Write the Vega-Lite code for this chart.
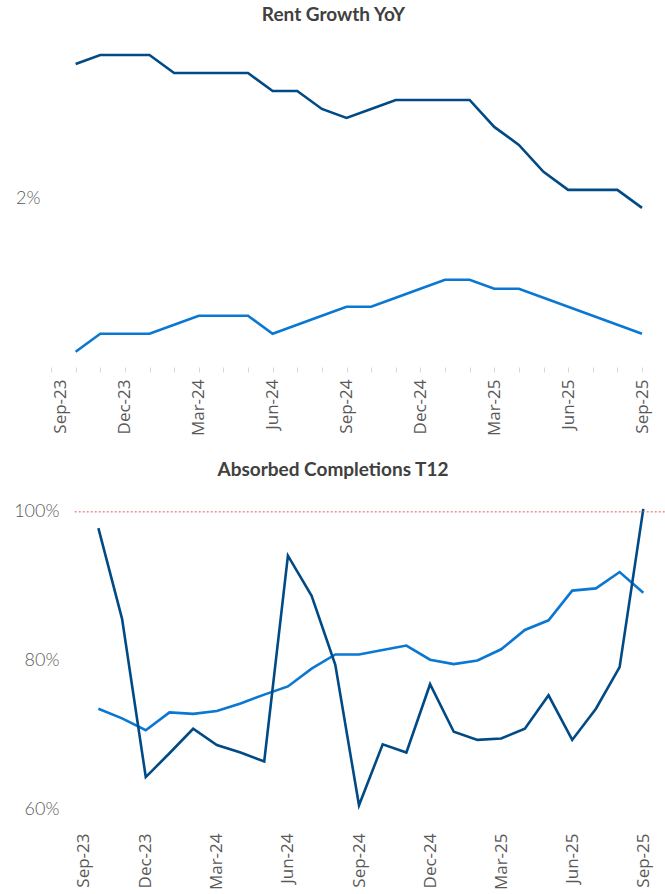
{
  "$schema": "https://vega.github.io/schema/vega-lite/v6.json",
  "padding": {"top": 6, "left": 13, "right": 0, "bottom": 0},
  "spacing": 25,
  "config": {"view": {"stroke": null}},
  "datasets": {
    "rent": [
      {"month": "Oct-23", "series": "Market", "value": 0.003},
      {"month": "Nov-23", "series": "Market", "value": 0.005},
      {"month": "Dec-23", "series": "Market", "value": 0.005},
      {"month": "Jan-24", "series": "Market", "value": 0.005},
      {"month": "Feb-24", "series": "Market", "value": 0.006},
      {"month": "Mar-24", "series": "Market", "value": 0.007},
      {"month": "Apr-24", "series": "Market", "value": 0.007},
      {"month": "May-24", "series": "Market", "value": 0.007},
      {"month": "Jun-24", "series": "Market", "value": 0.005},
      {"month": "Jul-24", "series": "Market", "value": 0.006},
      {"month": "Aug-24", "series": "Market", "value": 0.007},
      {"month": "Sep-24", "series": "Market", "value": 0.008},
      {"month": "Oct-24", "series": "Market", "value": 0.008},
      {"month": "Nov-24", "series": "Market", "value": 0.009},
      {"month": "Dec-24", "series": "Market", "value": 0.010},
      {"month": "Jan-25", "series": "Market", "value": 0.011},
      {"month": "Feb-25", "series": "Market", "value": 0.011},
      {"month": "Mar-25", "series": "Market", "value": 0.010},
      {"month": "Apr-25", "series": "Market", "value": 0.010},
      {"month": "May-25", "series": "Market", "value": 0.009},
      {"month": "Jun-25", "series": "Market", "value": 0.008},
      {"month": "Jul-25", "series": "Market", "value": 0.007},
      {"month": "Aug-25", "series": "Market", "value": 0.006},
      {"month": "Sep-25", "series": "Market", "value": 0.005},
      {"month": "Oct-23", "series": "Subject", "value": 0.035},
      {"month": "Nov-23", "series": "Subject", "value": 0.036},
      {"month": "Dec-23", "series": "Subject", "value": 0.036},
      {"month": "Jan-24", "series": "Subject", "value": 0.036},
      {"month": "Feb-24", "series": "Subject", "value": 0.034},
      {"month": "Mar-24", "series": "Subject", "value": 0.034},
      {"month": "Apr-24", "series": "Subject", "value": 0.034},
      {"month": "May-24", "series": "Subject", "value": 0.034},
      {"month": "Jun-24", "series": "Subject", "value": 0.032},
      {"month": "Jul-24", "series": "Subject", "value": 0.032},
      {"month": "Aug-24", "series": "Subject", "value": 0.030},
      {"month": "Sep-24", "series": "Subject", "value": 0.029},
      {"month": "Oct-24", "series": "Subject", "value": 0.030},
      {"month": "Nov-24", "series": "Subject", "value": 0.031},
      {"month": "Dec-24", "series": "Subject", "value": 0.031},
      {"month": "Jan-25", "series": "Subject", "value": 0.031},
      {"month": "Feb-25", "series": "Subject", "value": 0.031},
      {"month": "Mar-25", "series": "Subject", "value": 0.028},
      {"month": "Apr-25", "series": "Subject", "value": 0.026},
      {"month": "May-25", "series": "Subject", "value": 0.023},
      {"month": "Jun-25", "series": "Subject", "value": 0.021},
      {"month": "Jul-25", "series": "Subject", "value": 0.021},
      {"month": "Aug-25", "series": "Subject", "value": 0.021},
      {"month": "Sep-25", "series": "Subject", "value": 0.019}
    ],
    "absorbed": [
      {"month": "Oct-23", "series": "Market", "value": 0.735},
      {"month": "Nov-23", "series": "Market", "value": 0.722},
      {"month": "Dec-23", "series": "Market", "value": 0.706},
      {"month": "Jan-24", "series": "Market", "value": 0.730},
      {"month": "Feb-24", "series": "Market", "value": 0.728},
      {"month": "Mar-24", "series": "Market", "value": 0.732},
      {"month": "Apr-24", "series": "Market", "value": 0.742},
      {"month": "May-24", "series": "Market", "value": 0.754},
      {"month": "Jun-24", "series": "Market", "value": 0.765},
      {"month": "Jul-24", "series": "Market", "value": 0.789},
      {"month": "Aug-24", "series": "Market", "value": 0.808},
      {"month": "Sep-24", "series": "Market", "value": 0.808},
      {"month": "Oct-24", "series": "Market", "value": 0.814},
      {"month": "Nov-24", "series": "Market", "value": 0.820},
      {"month": "Dec-24", "series": "Market", "value": 0.801},
      {"month": "Jan-25", "series": "Market", "value": 0.795},
      {"month": "Feb-25", "series": "Market", "value": 0.800},
      {"month": "Mar-25", "series": "Market", "value": 0.815},
      {"month": "Apr-25", "series": "Market", "value": 0.841},
      {"month": "May-25", "series": "Market", "value": 0.854},
      {"month": "Jun-25", "series": "Market", "value": 0.894},
      {"month": "Jul-25", "series": "Market", "value": 0.897},
      {"month": "Aug-25", "series": "Market", "value": 0.919},
      {"month": "Sep-25", "series": "Market", "value": 0.891},
      {"month": "Oct-23", "series": "Subject", "value": 0.978},
      {"month": "Nov-23", "series": "Subject", "value": 0.856},
      {"month": "Dec-23", "series": "Subject", "value": 0.643},
      {"month": "Jan-24", "series": "Subject", "value": 0.675},
      {"month": "Feb-24", "series": "Subject", "value": 0.708},
      {"month": "Mar-24", "series": "Subject", "value": 0.686},
      {"month": "Apr-24", "series": "Subject", "value": 0.676},
      {"month": "May-24", "series": "Subject", "value": 0.664},
      {"month": "Jun-24", "series": "Subject", "value": 0.941},
      {"month": "Jul-24", "series": "Subject", "value": 0.887},
      {"month": "Aug-24", "series": "Subject", "value": 0.794},
      {"month": "Sep-24", "series": "Subject", "value": 0.605},
      {"month": "Oct-24", "series": "Subject", "value": 0.687},
      {"month": "Nov-24", "series": "Subject", "value": 0.676},
      {"month": "Dec-24", "series": "Subject", "value": 0.768},
      {"month": "Jan-25", "series": "Subject", "value": 0.704},
      {"month": "Feb-25", "series": "Subject", "value": 0.693},
      {"month": "Mar-25", "series": "Subject", "value": 0.695},
      {"month": "Apr-25", "series": "Subject", "value": 0.708},
      {"month": "May-25", "series": "Subject", "value": 0.753},
      {"month": "Jun-25", "series": "Subject", "value": 0.693},
      {"month": "Jul-25", "series": "Subject", "value": 0.735},
      {"month": "Aug-25", "series": "Subject", "value": 0.791},
      {"month": "Sep-25", "series": "Subject", "value": 1.004}
    ],
    "target": [
      {"target": 1.0}
    ]
  },
  "vconcat": [
    {
      "width": 591,
      "height": 330,
      "title": {"text": "Rent Growth YoY", "font": "Lato", "fontSize": 19, "fontWeight": "bold", "color": "#404040", "anchor": "middle", "dx": -13, "offset": 12},
      "data": {"name": "rent"},
      "mark": {"type": "line", "strokeWidth": 2.6},
      "encoding": {
        "x": {
          "field": "month", "type": "ordinal",
          "scale": {"type": "point", "padding": 0, "domain": ["Sep-23","Oct-23","Nov-23","Dec-23","Jan-24","Feb-24","Mar-24","Apr-24","May-24","Jun-24","Jul-24","Aug-24","Sep-24","Oct-24","Nov-24","Dec-24","Jan-25","Feb-25","Mar-25","Apr-25","May-25","Jun-25","Jul-25","Aug-25","Sep-25"]},
          "axis": {
            "title": null, "domain": false, "ticks": true, "tickColor": "#D9D9D9", "tickSize": 5,
            "labelAngle": -90, "labelFont": "Open Sans", "labelFontSize": 17, "labelColor": "#595959", "labelPadding": 7,
            "labelOverlap": false, "labelBound": false,
            "labelExpr": "indexof(['Sep-23','Dec-23','Mar-24','Jun-24','Sep-24','Dec-24','Mar-25','Jun-25','Sep-25'], datum.value) >= 0 ? datum.value : ''",
            "labelOffset": {"condition": {"test": "datum.value === 'Sep-23'", "value": 9}, "value": 0}
          }
        },
        "y": {
          "field": "value", "type": "quantitative",
          "scale": {"domain": [0.0013, 0.038], "nice": false, "zero": false},
          "axis": {"title": null, "values": [0.02], "format": ".0%", "grid": false, "domain": false, "ticks": false, "labelFont": "Lato", "labelFontWeight": 300, "labelFontSize": 18, "labelColor": "#595959", "labelPadding": 11}
        },
        "color": {"field": "series", "type": "nominal", "scale": {"domain": ["Subject", "Market"], "range": ["#004A86", "#0A78D2"]}, "legend": null}
      }
    },
    {
      "width": 616,
      "height": 312,
      "title": {"text": "Absorbed Completions T12", "font": "Lato", "fontSize": 19, "fontWeight": "bold", "color": "#404040", "anchor": "middle", "dx": -26, "offset": 17},
      "layer": [
        {
          "data": {"name": "absorbed"},
          "mark": {"type": "line", "strokeWidth": 2.6},
          "encoding": {
            "x": {
              "field": "month", "type": "ordinal",
              "scale": {"type": "point", "padding": 0, "domain": ["Aug-23","Sep-23","Oct-23","Nov-23","Dec-23","Jan-24","Feb-24","Mar-24","Apr-24","May-24","Jun-24","Jul-24","Aug-24","Sep-24","Oct-24","Nov-24","Dec-24","Jan-25","Feb-25","Mar-25","Apr-25","May-25","Jun-25","Jul-25","Aug-25","Sep-25","Oct-25"]},
              "axis": {
                "title": null, "domain": false, "ticks": false,
                "labelAngle": -90, "labelFont": "Open Sans", "labelFontSize": 17, "labelColor": "#595959", "labelPadding": 24,
                "labelOverlap": false, "labelBound": false,
                "labelExpr": "indexof(['Sep-23','Dec-23','Mar-24','Jun-24','Sep-24','Dec-24','Mar-25','Jun-25','Sep-25'], datum.value) >= 0 ? datum.value : ''",
                "labelOffset": {"condition": {"test": "datum.value === 'Sep-23'", "value": 9}, "value": 0}
              }
            },
            "y": {
              "field": "value", "type": "quantitative",
              "scale": {"domain": [0.6, 1.02], "nice": false, "zero": false},
              "axis": {"title": null, "values": [0.6, 0.8, 1.0], "format": ".0%", "grid": false, "domain": false, "ticks": false, "labelFont": "Lato", "labelFontWeight": 300, "labelFontSize": 18, "labelColor": "#595959", "labelPadding": -8}
            },
            "color": {"field": "series", "type": "nominal", "scale": {"domain": ["Subject", "Market"], "range": ["#004A86", "#0A78D2"]}, "legend": null}
          }
        },
        {
          "data": {"name": "target"},
          "mark": {"type": "rule", "color": "#E05A5A", "strokeDash": [2, 2], "strokeWidth": 1},
          "encoding": {
            "y": {"field": "target", "type": "quantitative"},
            "x": {"datum": "Sep-23", "type": "ordinal"},
            "x2": {"datum": "Oct-25"}
          }
        }
      ]
    }
  ],
  "resolve": {"scale": {"x": "independent", "y": "independent", "color": "shared"}}
}
